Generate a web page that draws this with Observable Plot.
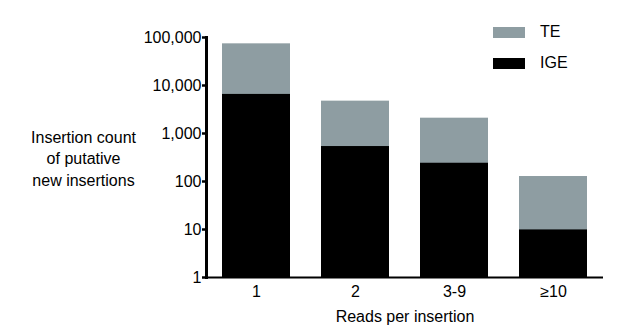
<!DOCTYPE html>
<html>
<head>
<meta charset="utf-8">
<script src="https://cdn.jsdelivr.net/npm/d3@7"></script>
<script src="https://cdn.jsdelivr.net/npm/@observablehq/plot@0.6"></script>
<style>
  body { margin: 0; background: #fff; font-family: "Liberation Sans", Arial, sans-serif; }
  #wrap { position: relative; width: 617px; height: 335px; }
  .lg { position: absolute; font-size: 16px; color: #000; }
  .sw { position: absolute; width: 32px; height: 11px; }
</style>
</head>
<body>
<div id="wrap"></div>
<script>
const categories = ["1", "2", "3-9", "≥10"];
const teValues = [73800, 4720, 2085, 127];
const igeValues = [6520, 535, 240, 9.8];
const yTicks = [1, 10, 100, 1000, 10000, 100000];
const seriesNames = ["TE", "IGE"];
const seriesColors = ["#8e9da2", "#000000"];

const data = categories.map((c, i) => ({cat: c, te: teValues[i], ige: igeValues[i]}));

const chart = Plot.plot({
  width: 617,
  height: 335,
  marginLeft: 206,
  marginRight: 14,
  marginTop: 37,
  marginBottom: 58,
  style: {fontFamily: "'Liberation Sans', Arial, sans-serif", fontSize: "16px", background: "#fff"},
  x: {domain: categories, paddingInner: 0.31, paddingOuter: 0.15, label: null},
  y: {type: "log", domain: [1, 100000], label: null},
  marks: [
    Plot.barY(data, {x: "cat", y1: 1, y2: "te", fill: seriesColors[0]}),
    Plot.barY(data, {x: "cat", y1: 1, y2: "ige", fill: seriesColors[1]}),
    Plot.ruleY([1], {stroke: "#000", strokeWidth: 2.2}),
    Plot.frame({anchor: "left", stroke: "#000", strokeWidth: 3}),
    Plot.axisY({ticks: yTicks, tickFormat: d3.format(","), tickSize: 4, tickPadding: 1, strokeWidth: 2.5, fontSize: 16, label: null}),
    Plot.axisX({tickSize: 0, tickPadding: 8, fontSize: 16, label: null}),
    Plot.text(["Insertion count\nof putative\nnew insertions"], {frameAnchor: "left", dx: -123, textAnchor: "middle", lineHeight: 1.35, fontSize: 16, fill: "#000"}),
    Plot.text(["Reads per insertion"], {frameAnchor: "bottom", dy: 33, lineAnchor: "top", textAnchor: "middle", fontSize: 16, fill: "#000"})
  ]
});
const wrap = document.getElementById("wrap");
wrap.appendChild(chart);

const legendY = [27, 58];
seriesNames.forEach((name, i) => {
  const sw = document.createElement("div");
  sw.className = "sw";
  sw.style.left = "493px";
  sw.style.top = legendY[i] + "px";
  sw.style.background = seriesColors[i];
  wrap.appendChild(sw);
  const t = document.createElement("div");
  t.className = "lg";
  t.textContent = name;
  t.style.left = "540px";
  t.style.top = (legendY[i] - 4) + "px";
  wrap.appendChild(t);
});
</script>
</body>
</html>
